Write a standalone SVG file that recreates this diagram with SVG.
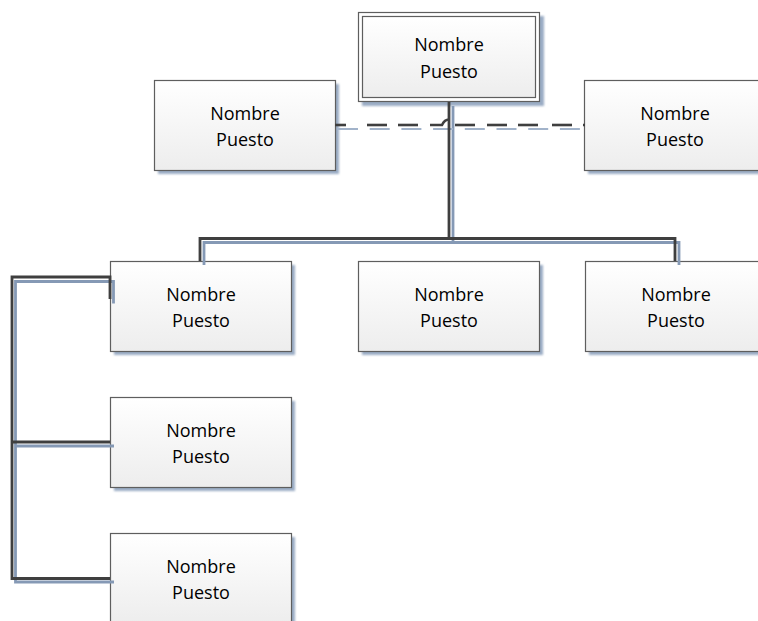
<svg xmlns="http://www.w3.org/2000/svg" width="758" height="621" viewBox="0 0 758 621">
<defs>
<linearGradient id="nf" x1="0" y1="0" x2="0" y2="1">
<stop offset="0" stop-color="#ffffff"/>
<stop offset="1" stop-color="#ededed"/>
</linearGradient>
<filter id="blur" x="-10%" y="-10%" width="120%" height="120%">
<feGaussianBlur stdDeviation="0.8"/>
</filter>
</defs>
<style>
.shadow{fill:#9aacc4;filter:url(#blur)}
.box{fill:url(#nf);stroke:#5e5e5e;stroke-width:1.2}
.outer{fill:#ffffff;stroke:#5e5e5e;stroke-width:1.2}
.lbl{font-family:"Open Sans","Liberation Sans",sans-serif;font-size:18px;fill:#000000;text-anchor:middle}
.c{fill:none;stroke:#3f3f3f;stroke-width:2.8}
.cs{fill:none;stroke:#8599b5;stroke-width:2.8}
.d{fill:none;stroke:#3f3f3f;stroke-width:2.6}
.ds{fill:none;stroke:#a2b3ca;stroke-width:2.2;stroke-dasharray:20 11.7}
</style>
<rect width="758" height="621" fill="#ffffff"/>

<g id="node-top">
<rect class="shadow" x="362" y="16" width="182" height="90"/>
<rect class="outer" x="358.5" y="12.5" width="181" height="89"/>
<rect class="box" x="362.5" y="16.5" width="173" height="81"/>
<text class="lbl" x="449" y="51">Nombre</text>
<text class="lbl" x="449" y="78">Puesto</text>
</g>

<g id="node-left">
<rect class="shadow" x="158" y="84" width="181" height="90"/>
<rect class="box" x="154.5" y="80.5" width="181" height="90"/>
<text class="lbl" x="245" y="120">Nombre</text>
<text class="lbl" x="245" y="146">Puesto</text>
</g>

<g id="node-right">
<rect class="shadow" x="588" y="84" width="181" height="90"/>
<rect class="box" x="584.5" y="80.5" width="181" height="90"/>
<text class="lbl" x="675" y="120">Nombre</text>
<text class="lbl" x="675" y="146">Puesto</text>
</g>

<g id="node-r2-1">
<rect class="shadow" x="114" y="265" width="181" height="90"/>
<rect class="box" x="110.5" y="261.5" width="181" height="90"/>
<text class="lbl" x="201" y="300.5">Nombre</text>
<text class="lbl" x="201" y="326.5">Puesto</text>
</g>

<g id="node-r2-2">
<rect class="shadow" x="362" y="265" width="181" height="90"/>
<rect class="box" x="358.5" y="261.5" width="181" height="90"/>
<text class="lbl" x="449" y="300.5">Nombre</text>
<text class="lbl" x="449" y="326.5">Puesto</text>
</g>

<g id="node-r2-3">
<rect class="shadow" x="589" y="265" width="181" height="90"/>
<rect class="box" x="585.5" y="261.5" width="181" height="90"/>
<text class="lbl" x="676" y="300.5">Nombre</text>
<text class="lbl" x="676" y="326.5">Puesto</text>
</g>

<g id="node-c2">
<rect class="shadow" x="114" y="401" width="181" height="90"/>
<rect class="box" x="110.5" y="397.5" width="181" height="90"/>
<text class="lbl" x="201" y="436.5">Nombre</text>
<text class="lbl" x="201" y="462.5">Puesto</text>
</g>

<g id="node-c3">
<rect class="shadow" x="114" y="537" width="181" height="90"/>
<rect class="box" x="110.5" y="533.5" width="181" height="90"/>
<text class="lbl" x="201" y="572.5">Nombre</text>
<text class="lbl" x="201" y="598.5">Puesto</text>
</g>

<g id="connectors">
<path class="cs" d="M453,106 V242.5"/>
<path class="cs" d="M204,265 V242.5 H679 V265"/>
<path class="cs" d="M113.5,303.5 V281.5 H15.5 V582 H114"/>
<path class="cs" d="M15.5,446 H114"/>
<path class="ds" d="M338,129 H588"/>
<path class="c" d="M449,102 V238.5"/>
<path class="c" d="M200,261 V238.5 H675 V261"/>
<path class="c" d="M110,299 V277 H12 V578.5 H110"/>
<path class="c" d="M12,442 H110"/>
<path class="d" d="M335,125 H346"/>
<path class="d" d="M367,125 H387"/>
<path class="d" d="M398,125 H418"/>
<path class="d" d="M430,125 H442 Q444.5,119.5 449,119.5"/>
<path class="d" d="M455,125 H475"/>
<path class="d" d="M487,125 H507"/>
<path class="d" d="M518,125 H538"/>
<path class="d" d="M552,125 H572"/>
<path class="d" d="M583,125 H585"/>
</g>
</svg>
